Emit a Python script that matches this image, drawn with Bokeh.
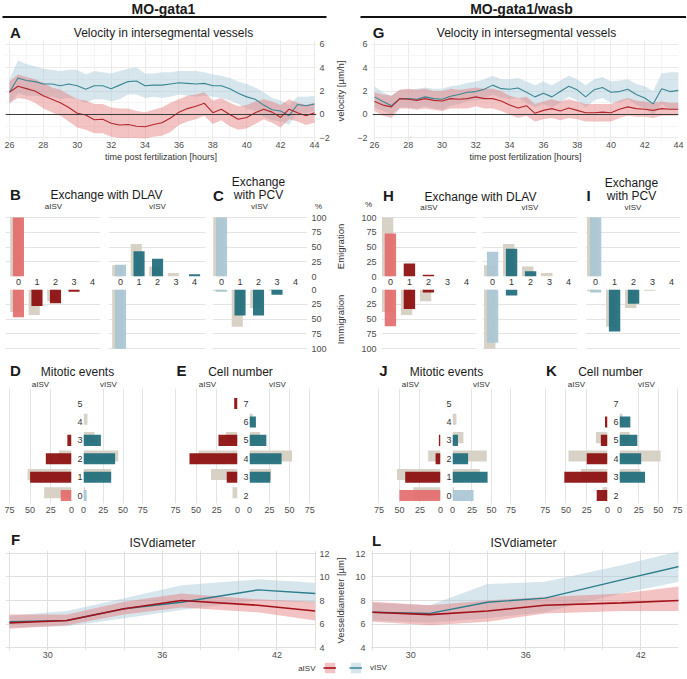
from bokeh.plotting import figure
from bokeh.models import (Range1d, FixedTicker, Label, BoxAnnotation, Span,
                          ColumnDataSource, Legend, LegendItem)
from bokeh.layouts import row, column
from bokeh.transform import dodge
from bokeh.embed import file_html
from bokeh.resources import INLINE

FONT = "Liberation Sans"

# ---------------- velocity data ----------------
time_h = [26.0, 26.5, 27.0, 27.5, 28.0, 28.5, 29.0, 29.5, 30.0, 30.5,
          31.0, 31.5, 32.0, 32.5, 33.0, 33.5, 34.0, 34.5, 35.0, 35.5,
          36.0, 36.5, 37.0, 37.5, 38.0, 38.5, 39.0, 39.5, 40.0, 40.5,
          41.0, 41.5, 42.0, 42.5, 43.0, 43.5, 44.0]
# MO-gata1 (A)
g1_vel_v = [1.9, 3.1, 2.9, 2.8, 2.6, 2.6, 2.45, 2.6, 2.45, 2.15,
            2.45, 2.45, 2.2, 2.5, 2.8, 2.85, 2.45, 2.5, 2.5, 2.6,
            2.7, 2.65, 2.6, 2.65, 2.45, 2.45, 2.2, 1.8, 1.5, 1.3,
            0.8, 0.4, 0.3, -0.1, 0.85, 0.75, 0.9]
g1_vel_v_lo = [0.8, 1.8, 1.6, 1.6, 1.5, 1.5, 1.3, 1.4, 1.3, 1.0,
               1.3, 1.3, 1.1, 1.3, 1.7, 1.7, 1.4, 1.5, 1.4, 1.5,
               1.7, 1.6, 1.5, 1.6, 1.5, 1.4, 1.2, 0.9, 0.5, 0.3,
               -0.2, -0.5, -0.6, -0.9, 0.2, 0.1, 0.3]
g1_vel_v_hi = [3.0, 4.6, 4.3, 4.1, 3.9, 3.8, 3.7, 3.8, 3.8, 3.4,
               3.7, 3.6, 3.5, 3.7, 3.9, 4.0, 3.5, 3.5, 3.6, 3.6,
               3.7, 3.7, 3.7, 3.6, 3.4, 3.3, 3.1, 2.8, 2.6, 2.3,
               1.9, 1.4, 1.2, 0.8, 1.5, 1.5, 1.6]
g1_vel_a = [1.9, 2.4, 2.2, 2.0, 1.6, 1.3, 1.0, 0.6, 0.1, -0.05,
            -0.45, -0.4, -0.75, -0.9, -0.85, -1.0, -1.05, -0.85, -0.7, -0.3,
            0.2, 0.5, 0.7, 0.95, 0.15, 0.45, 0.0, -0.4, -0.25, 0.15,
            0.45, 0.2, -0.25, 0.45, 0.15, -0.1, 0.15]
g1_vel_a_lo = [1.0, 1.4, 1.3, 1.0, 0.5, 0.2, -0.1, -0.6, -1.1, -1.3,
               -1.6, -1.6, -1.9, -2.0, -2.0, -2.0, -2.05, -1.9, -1.8, -1.5,
               -0.9, -0.6, -0.4, -0.1, -0.8, -0.5, -1.0, -1.3, -1.2, -0.8,
               -0.4, -0.7, -1.1, -0.4, -0.6, -0.9, -0.7]
g1_vel_a_hi = [2.8, 3.4, 3.2, 3.0, 2.7, 2.3, 2.1, 1.7, 1.3, 1.2,
               0.9, 0.9, 0.6, 0.5, 0.5, 0.3, 0.2, 0.4, 0.6, 1.0,
               1.3, 1.6, 1.7, 1.9, 1.2, 1.4, 1.0, 0.7, 0.8, 1.1,
               1.3, 1.1, 0.8, 1.3, 1.0, 0.8, 1.0]
# MO-gata1/wasb (G)
gw_vel_v = [1.5, 1.1, 0.75, 1.35, 1.35, 1.3, 1.5, 1.35, 1.3, 1.55,
            1.7, 1.9, 1.95, 2.15, 2.5, 2.2, 2.15, 2.25, 1.9, 1.5,
            1.8, 1.5, 1.95, 2.4, 2.1, 1.5, 2.1, 2.3, 1.9, 1.95,
            2.15, 1.7, 1.4, 0.9, 2.2, 1.95, 2.05]
gw_vel_v_lo = [0.6, 0.3, 0.0, 0.6, 0.6, 0.5, 0.7, 0.5, 0.4, 0.7,
               0.9, 1.1, 1.2, 1.3, 1.7, 1.4, 1.3, 1.4, 1.0, 0.6,
               0.9, 0.6, 1.0, 1.5, 1.2, 0.6, 1.2, 1.4, 1.0, 1.0,
               1.3, 0.8, 0.5, -0.1, 0.9, 0.4, 0.5]
gw_vel_v_hi = [2.4, 1.9, 1.6, 2.1, 2.1, 2.2, 2.3, 2.2, 2.2, 2.4,
               2.5, 2.7, 2.8, 3.0, 3.3, 3.0, 3.0, 3.1, 2.8, 2.5,
               2.8, 2.5, 2.9, 3.3, 3.0, 2.5, 3.0, 3.2, 2.8, 2.9,
               3.0, 2.6, 2.4, 2.0, 3.5, 3.6, 3.6]
gw_vel_a = [1.1, 0.8, 0.65, 1.35, 1.3, 1.2, 1.35, 1.2, 1.15, 1.35,
            1.3, 1.35, 1.5, 1.35, 1.35, 1.15, 0.8, 0.55, 0.75, 0.1,
            0.35, 0.5, 0.3, 0.55, 0.35, 0.15, 0.15, 0.2, 0.15, 0.45,
            0.65, 0.5, 0.45, 0.35, 0.5, 0.45, 0.45]
gw_vel_a_lo = [0.3, -0.1, -0.3, 0.5, 0.5, 0.4, 0.5, 0.4, 0.3, 0.5,
               0.5, 0.5, 0.7, 0.5, 0.5, 0.3, 0.0, -0.3, -0.1, -0.6,
               -0.4, -0.3, -0.5, -0.3, -0.4, -0.6, -0.6, -0.6, -0.6, -0.3,
               -0.1, -0.2, -0.2, -0.3, -0.1, -0.1, -0.1]
gw_vel_a_hi = [1.9, 1.7, 1.6, 2.1, 2.2, 2.1, 2.2, 2.0, 2.0, 2.2,
               2.1, 2.2, 2.3, 2.2, 2.2, 2.0, 1.6, 1.4, 1.5, 0.9,
               1.1, 1.3, 1.1, 1.3, 1.1, 0.9, 0.9, 0.9, 0.9, 1.2,
               1.4, 1.2, 1.1, 1.0, 1.1, 1.0, 1.0]

# ---------------- exchange data (% of cells) ----------------
exch_cats = [0, 1, 2, 3, 4]
ctrl_dlav_a_emig = [100, 0, 0, 0, 0]
ctrl_dlav_a_immig = [38, 43, 20, 0, 0]
ctrl_dlav_v_emig = [19, 55, 17, 6, 0]
ctrl_dlav_v_immig = [100, 0, 0, 0, 0]
ctrl_pcv_v_emig = [100, 0, 0, 0, 0]
ctrl_pcv_v_immig = [3, 63, 31, 2, 0]
g1_dlav_a_emig = [100, 0, 0, 0, 0]
g1_dlav_a_immig = [47, 28, 23, 4, 0]
g1_dlav_v_emig = [20, 43, 30, 0, 4]
g1_dlav_v_immig = [100, 0, 0, 0, 0]
g1_pcv_v_emig = [100, 0, 0, 0, 0]
g1_pcv_v_immig = [4, 44, 44, 9, 0]
gw_dlav_a_emig = [73, 22, 3, 0, 0]
gw_dlav_a_immig = [62, 33, 5, 0, 0]
gw_dlav_v_emig = [42, 47, 9, 0, 0]
gw_dlav_v_immig = [90, 10, 0, 0, 0]
gw_pcv_v_emig = [100, 0, 0, 0, 0]
gw_pcv_v_immig = [5, 71, 24, 0, 0]

# ---------------- mitotic events / cell number (%) ----------------
mit_cats = [0, 1, 2, 3, 4, 5]
ctrl_mit_a = [33, 53, 15, 0, 0, 0]
ctrl_mit_v = [2, 35, 44, 14, 5, 0]
g1_mit_a = [13, 50, 31, 5, 0, 0]
g1_mit_v = [4, 35, 40, 22, 0, 0]
gw_mit_a = [50, 43, 6, 2, 0, 0]
gw_mit_v = [27, 45, 20, 7, 0, 0]
cell_cats = [2, 3, 4, 5, 6, 7]
ctrl_cell_a = [6, 32, 47, 14, 0, 0]
ctrl_cell_v = [0, 27, 53, 13, 4, 0]
g1_cell_a = [0, 13, 58, 23, 0, 4]
g1_cell_v = [0, 26, 40, 21, 8, 0]
gw_cell_a = [13, 52, 25, 8, 3, 0]
gw_cell_v = [0, 33, 28, 23, 14, 0]

# ---------------- ISV diameter (um) ----------------
dia_t = [28, 31, 34, 37, 41, 44]
g1_dia_a = [6.1, 6.3, 7.3, 8.0, 7.6, 7.1]
g1_dia_a_lo = [5.6, 5.9, 6.8, 7.4, 7.0, 6.3]
g1_dia_a_hi = [6.8, 6.8, 7.9, 8.6, 8.1, 7.9]
g1_dia_v = [6.2, 6.3, 7.3, 7.85, 8.9, 8.6]
g1_dia_v_lo = [5.7, 5.8, 6.5, 7.2, 8.0, 7.8]
g1_dia_v_hi = [6.7, 7.1, 8.2, 9.3, 9.8, 9.5]
gw_dia_a = [7.0, 6.8, 7.1, 7.6, 7.8, 8.0]
gw_dia_a_lo = [6.2, 5.9, 6.2, 6.9, 7.1, 7.1]
gw_dia_a_hi = [7.9, 7.6, 8.0, 8.3, 8.6, 9.2]
gw_dia_v = [7.0, 6.9, 7.85, 8.2, 9.75, 10.9]
gw_dia_v_lo = [6.3, 6.1, 6.5, 7.0, 8.6, 9.6]
gw_dia_v_hi = [7.8, 7.6, 9.4, 9.6, 11.0, 12.2]

# ---------------- styles ----------------
V_LINE = "#3a8693"
A_LINE = "#b3262b"
V_BAND = "#a6c8d8"
A_BAND = "#e57b7b"
BEIGE = "#d8d2c6"
DARKRED = "#8b0b0b"
LIGHTRED = "#e36d6d"
TEAL = "#1d6b79"
LIGHTBLUE = "#a9c7d4"
GRID = "#e4e4e4"
TXT = "#1a1a1a"
PCT = [0, 25, 50, 75, 100]


def style_axes(p):
    for ax in list(p.xaxis) + list(p.yaxis):
        ax.axis_line_color = None
        ax.major_tick_line_color = None
        ax.minor_tick_line_color = None
        ax.major_tick_out = 0
        ax.major_tick_in = 0
        ax.minor_tick_out = 0
        ax.minor_tick_in = 0
        ax.major_label_text_font = FONT
        ax.major_label_text_font_size = "9px"
        ax.major_label_text_color = "#4d4d4d"
        ax.axis_label_text_font = FONT
        ax.axis_label_text_font_size = "9.5px"
        ax.axis_label_text_font_style = "normal"
        ax.axis_label_text_color = "#333333"


def base_fig(w, h, ml, mr, mt, mb, xr, yr, xloc=None, yloc=None):
    p = figure(width=w, height=h, x_range=xr, y_range=yr, title=None,
               x_axis_location=xloc, y_axis_location=yloc,
               toolbar_location=None, output_backend="svg",
               min_border_left=ml, min_border_right=mr,
               min_border_top=mt, min_border_bottom=mb)
    p.frame_align = False
    p.outline_line_color = None
    p.background_fill_color = "white"
    p.border_fill_color = "white"
    style_axes(p)
    return p


def strip(w, h):
    p = figure(width=w, height=h, x_range=Range1d(0, w), y_range=Range1d(h, 0),
               title=None, x_axis_location=None, y_axis_location=None,
               toolbar_location=None, output_backend="svg",
               min_border_left=0, min_border_right=0, min_border_top=0, min_border_bottom=0)
    p.frame_align = False
    p.xgrid.visible = False
    p.ygrid.visible = False
    p.outline_line_color = None
    p.background_fill_color = "white"
    p.border_fill_color = "white"
    return p


def txt(p, x, y, s, size="12px", bold=False, align="center", color=TXT):
    p.add_layout(Label(x=x, y=y, text=s, text_align=align, text_baseline="middle",
                       text_font=FONT, text_font_size=size,
                       text_font_style="bold" if bold else "normal", text_color=color))


def velocity_fig(w, ml, mr, xr, am, alo, ahi, vm, vlo, vhi, yside, ylabel=None, lab_so=0):
    p = base_fig(w, 125, ml, mr, 0, 24, Range1d(*xr), Range1d(-2.3, 6.3),
                 xloc="below", yloc=yside)
    src = ColumnDataSource(dict(t=time_h, am=am, alo=alo, ahi=ahi, vm=vm, vlo=vlo, vhi=vhi))
    p.varea(x="t", y1="vlo", y2="vhi", source=src, fill_color=V_BAND, fill_alpha=0.45)
    p.varea(x="t", y1="alo", y2="ahi", source=src, fill_color=A_BAND, fill_alpha=0.45)
    p.add_layout(Span(location=0, dimension="width", line_color="#3a3a3a",
                      line_width=1, level="glyph"))
    p.line(x="t", y="vm", source=src, line_color=V_LINE, line_width=1.1)
    p.line(x="t", y="am", source=src, line_color=A_LINE, line_width=1.1)
    xt = FixedTicker(ticks=[26, 28, 30, 32, 34, 36, 38, 40, 42, 44],
                     minor_ticks=[27, 29, 31, 33, 35, 37, 39, 41, 43])
    yt = FixedTicker(ticks=[-2, 0, 2, 4, 6], minor_ticks=[-1, 1, 3, 5])
    p.xaxis.ticker = xt
    p.yaxis.ticker = yt
    p.xgrid.ticker = xt
    p.ygrid.ticker = yt
    p.grid.grid_line_color = "#ebebeb"
    p.grid.minor_grid_line_color = "#f5f5f5"
    p.xaxis.axis_label = "time post fertilization [hours]"
    p.xaxis.major_label_standoff = 0
    p.xaxis.axis_label_standoff = 1
    p.xaxis.axis_label_text_font_size = "9px"
    p.yaxis.major_label_standoff = 3 if yside == "right" else 5
    if ylabel:
        p.yaxis.axis_label = ylabel
        p.yaxis.axis_label_standoff = lab_so
    return p


def exch_col(w, ml, mr, xr, ctrl_e, val_e, ctrl_i, val_i, kind):
    light = LIGHTRED if kind == "a" else LIGHTBLUE
    dark = DARKRED if kind == "a" else TEAL
    colors = [light if c == 0 else dark for c in exch_cats]
    up = base_fig(w, 75, ml, mr, 2, 13, Range1d(*xr), Range1d(0, 101.7), xloc="below")
    lo = base_fig(w, 66, ml, mr, 0, 6, Range1d(*xr), Range1d(101.2, 0))
    for p, c, v in ((up, ctrl_e, val_e), (lo, ctrl_i, val_i)):
        src = ColumnDataSource(dict(cat=exch_cats, ctrl=c, val=v, color=colors))
        p.vbar(x=dodge("cat", -0.15), top="ctrl", bottom=0, width=0.6, source=src,
               fill_color=BEIGE, line_color=None)
        p.vbar(x="cat", top="val", bottom=0, width=0.6, source=src,
               fill_color="color", fill_alpha=0.92, line_color=None)
        p.xgrid.visible = False
        p.ygrid.ticker = FixedTicker(ticks=PCT)
        p.ygrid.grid_line_color = GRID
    up.xaxis.ticker = FixedTicker(ticks=exch_cats)
    up.xaxis.major_label_standoff = 2
    up.xaxis.major_label_text_color = "#333333"
    return column(up, lo)


def axis_fig(w, h, ml, mr, mt, mb, yr, side, standoff, label=None, lab_so=0):
    p = base_fig(w, h, ml, mr, mt, mb, Range1d(0, 1), yr, yloc=side)
    p.xgrid.visible = False
    p.ygrid.visible = False
    p.yaxis.ticker = FixedTicker(ticks=PCT)
    p.yaxis.major_label_standoff = standoff
    if label:
        p.yaxis.axis_label = label
        p.yaxis.axis_label_standoff = lab_so
    return p


def axis_col(w, ml, mr, side, standoff, labels=(None, None), lab_so=0):
    up = axis_fig(w, 69, ml, mr, 2, 7, Range1d(0, 101.7), side, standoff, labels[0], lab_so)
    lo = axis_fig(w, 72, ml, mr, 6, 6, Range1d(101.2, 0), side, standoff, labels[1], lab_so)
    return column(up, lo)


def mit_pair(wl, mll, mrl, xl, wr, mlr, mrr, xr, cats, yr, ctrl_a, val_a, ctrl_v, val_v, light0):
    ca = [LIGHTRED if (light0 and c == 0) else DARKRED for c in cats]
    cv = [LIGHTBLUE if (light0 and c == 0) else TEAL for c in cats]
    left = base_fig(wl, 132, mll, mrl, 0, 17, Range1d(*xl), Range1d(*yr), xloc="below")
    right = base_fig(wr, 132, mlr, mrr, 0, 17, Range1d(*xr), Range1d(*yr),
                     xloc="below", yloc="left")
    for p, c, v, col in ((left, ctrl_a, val_a, ca), (right, ctrl_v, val_v, cv)):
        src = ColumnDataSource(dict(cat=cats, ctrl=c, val=v, color=col))
        p.hbar(y=dodge("cat", 0.15), left=0, right="ctrl", height=0.6, source=src,
               fill_color=BEIGE, line_color=None)
        p.hbar(y="cat", left=0, right="val", height=0.6, source=src,
               fill_color="color", fill_alpha=0.92, line_color=None)
        p.ygrid.visible = False
        p.xgrid.ticker = FixedTicker(ticks=[0, 25, 50, 75])
        p.xgrid.grid_line_color = GRID
        p.xaxis.ticker = FixedTicker(ticks=[0, 25, 50, 75])
        p.xaxis.major_label_standoff = 3
    right.yaxis.ticker = FixedTicker(ticks=cats)
    right.yaxis.major_label_standoff = 1
    right.yaxis.major_label_text_color = "#333333"
    return left, right


def dia_fig(w, ml, mr, xr, am, alo, ahi, vm, vlo, vhi, yside, ylabel=None, lab_so=0):
    p = base_fig(w, 111, ml, mr, 0, 11, Range1d(*xr), Range1d(3.745, 12.255),
                 xloc="below", yloc=yside)
    src = ColumnDataSource(dict(t=dia_t, am=am, alo=alo, ahi=ahi, vm=vm, vlo=vlo, vhi=vhi))
    p.varea(x="t", y1="vlo", y2="vhi", source=src, fill_color=V_BAND, fill_alpha=0.45)
    p.varea(x="t", y1="alo", y2="ahi", source=src, fill_color=A_BAND, fill_alpha=0.45)
    p.line(x="t", y="vm", source=src, line_color="#2c7d8c", line_width=1.4)
    p.line(x="t", y="am", source=src, line_color="#a3121a", line_width=1.6)
    p.xaxis.ticker = FixedTicker(ticks=[30, 36, 42])
    p.xgrid.ticker = FixedTicker(ticks=[28, 30, 32, 34, 36, 38, 40, 42, 44])
    yt = FixedTicker(ticks=[4, 6, 8, 10, 12])
    p.yaxis.ticker = yt
    p.ygrid.ticker = yt
    p.grid.grid_line_color = "#e0e0e0"
    p.xaxis.major_label_standoff = 1
    p.yaxis.major_label_standoff = 3 if yside == "right" else 5
    if ylabel:
        p.yaxis.axis_label = ylabel
        p.yaxis.axis_label_standoff = lab_so
    return p


SUB = dict(size="8px", color="#333333")
LET = dict(size="15px", bold=True)

# ================= LEFT HALF (MO-gata1) : x 0..332 =================
hdrL = strip(332, 40)
txt(hdrL, 163, 8.5, "MO-gata1", size="14px", bold=True)
hdrL.add_layout(BoxAnnotation(left=2, right=326, top=15.5, bottom=17.5,
                              fill_color="#111111", fill_alpha=1, line_color=None))
txt(hdrL, 15, 32, "A", **LET)
txt(hdrL, 163, 32.5, "Velocity in intersegmental vessels")

A = velocity_fig(332, 5, 15, (25.765, 44.118), g1_vel_a, g1_vel_a_lo, g1_vel_a_hi,
                 g1_vel_v, g1_vel_v_lo, g1_vel_v_hi, "right")

exL = strip(332, 49)
txt(exL, 15, 28.7, "B", **LET)
txt(exL, 106, 29, "Exchange with DLAV")
txt(exL, 218, 29.5, "C", **LET)
txt(exL, 258, 16, "Exchange")
txt(exL, 258, 29, "with PCV")
txt(exL, 53, 41, "aISV", **SUB)
txt(exL, 157, 41, "vISV", **SUB)
txt(exL, 259, 41, "vISV", **SUB)
txt(exL, 318, 40.5, "%", **SUB)

colBa = exch_col(104, 5, 4, (-0.70, 4.43), ctrl_dlav_a_emig, g1_dlav_a_emig,
                 ctrl_dlav_a_immig, g1_dlav_a_immig, "a")
colBv = exch_col(105, 4, 4, (-0.65, 4.59), ctrl_dlav_v_emig, g1_dlav_v_emig,
                 ctrl_dlav_v_immig, g1_dlav_v_immig, "v")
colC = exch_col(98, 3, 0, (-0.49, 4.65), ctrl_pcv_v_emig, g1_pcv_v_emig,
                ctrl_pcv_v_immig, g1_pcv_v_immig, "v")
axL = axis_col(25, 0, 24, "right", 3)

mitL = strip(332, 33)
txt(mitL, 15, 15, "D", **LET)
txt(mitL, 77, 16, "Mitotic events")
txt(mitL, 181, 15, "E", **LET)
txt(mitL, 240, 16, "Cell number")
for x, s in ((40, "aISV"), (108, "vISV"), (207, "aISV"), (277, "vISV")):
    txt(mitL, x, 28.5, s, **SUB)

Dl, Dr = mit_pair(74, 5, 3, (79.7, 0), 86, 6, 14, (0, 79.7), mit_cats, (-0.43, 5.82),
                  ctrl_mit_a, g1_mit_a, ctrl_mit_v, g1_mit_v, True)
El, Er = mit_pair(80, 10, 3, (80.9, 0), 92, 7, 20, (0, 78.5), cell_cats, (1.57, 7.82),
                  ctrl_cell_a, g1_cell_a, ctrl_cell_v, g1_cell_v, False)

diaL = strip(332, 30)
txt(diaL, 15, 19, "F", **LET)
txt(diaL, 162, 22, "ISVdiameter")

F = dia_fig(332, 5, 15, (27.79, 44.07), g1_dia_a, g1_dia_a_lo, g1_dia_a_hi,
            g1_dia_v, g1_dia_v_lo, g1_dia_v_hi, "right")

# ================= RIGHT HALF (MO-gata1/wasb) : x 332..686 =================
hdrR = strip(354, 40)
txt(hdrR, 189, 8.5, "MO-gata1/wasb", size="14px", bold=True)
hdrR.add_layout(BoxAnnotation(left=28, right=354, top=15.5, bottom=17.5,
                              fill_color="#111111", fill_alpha=1, line_color=None))
txt(hdrR, 46, 32, "G", **LET)
txt(hdrR, 194, 32.5, "Velocity in intersegmental vessels")

G = velocity_fig(354, 38, 8, (25.88, 44.0), gw_vel_a, gw_vel_a_lo, gw_vel_a_hi,
                 gw_vel_v, gw_vel_v_lo, gw_vel_v_hi, "left",
                 ylabel="velocity [µm/h]", lab_so=8)

exR = strip(354, 49)
txt(exR, 56, 30.3, "H", **LET)
txt(exR, 148, 31, "Exchange with DLAV")
txt(exR, 256, 30.3, "I", **LET)
txt(exR, 299, 17, "Exchange")
txt(exR, 299, 30, "with PCV")
txt(exR, 96.5, 42, "aISV", **SUB)
txt(exR, 197.5, 42, "vISV", **SUB)
txt(exR, 300.5, 42, "vISV", **SUB)
txt(exR, 36, 39, "%", **SUB)

axR = axis_col(49, 48, 0, "left", 4, labels=("Emigration", "Immigration"), lab_so=12)
colHa = exch_col(98, 0, 3, (-0.47, 4.53), ctrl_dlav_a_emig, gw_dlav_a_emig,
                 ctrl_dlav_a_immig, gw_dlav_a_immig, "a")
colHv = exch_col(102, 3, 4, (-0.53, 4.47), ctrl_dlav_v_emig, gw_dlav_v_emig,
                 ctrl_dlav_v_immig, gw_dlav_v_immig, "v")
colI = exch_col(105, 4, 6, (-0.53, 4.47), ctrl_pcv_v_emig, gw_pcv_v_emig,
                ctrl_pcv_v_immig, gw_pcv_v_immig, "v")

mitR = strip(354, 33)
txt(mitR, 51, 15, "J", **LET)
txt(mitR, 114, 16, "Mitotic events")
txt(mitR, 219, 15, "K", **LET)
txt(mitR, 278, 16, "Cell number")
for x, s in ((78, "aISV"), (149, "vISV"), (244, "aISV"), (314, "vISV")):
    txt(mitR, x, 28.5, s, **SUB)

Jl, Jr = mit_pair(111, 43, 3, (79.2, 0), 87, 7, 16, (0, 79.5), mit_cats, (-0.43, 5.82),
                  ctrl_mit_a, gw_mit_a, ctrl_mit_v, gw_mit_v, True)
Kl, Kr = mit_pair(80, 11, 3, (79.5, 0), 76, 6, 7, (0, 77.5), cell_cats, (1.57, 7.82),
                  ctrl_cell_a, gw_cell_a, ctrl_cell_v, gw_cell_v, False)

diaR = strip(354, 30)
txt(diaR, 44, 20, "L", **LET)
txt(diaR, 191, 22, "ISVdiameter")

L = dia_fig(354, 38, 8, (27.9, 43.97), gw_dia_a, gw_dia_a_lo, gw_dia_a_hi,
            gw_dia_v, gw_dia_v_lo, gw_dia_v_hi, "left",
            ylabel="Vesseldiameter [µm]", lab_so=6)

# ================= LEGEND =================
leg = strip(686, 17)
leg.extra_y_ranges = {"off": Range1d(1000, 1001)}
rab = leg.varea(x=dia_t, y1=g1_dia_a_lo, y2=g1_dia_a_hi, y_range_name="off",
                fill_color=A_BAND, fill_alpha=0.45)
ral = leg.line(x=dia_t, y=g1_dia_a, y_range_name="off", line_color="#a3121a", line_width=1.6)
rvb = leg.varea(x=dia_t, y1=g1_dia_v_lo, y2=g1_dia_v_hi, y_range_name="off",
                fill_color=V_BAND, fill_alpha=0.45)
rvl = leg.line(x=dia_t, y=g1_dia_v, y_range_name="off", line_color="#2c7d8c", line_width=1.4)
legend = Legend(items=[LegendItem(label=" ", renderers=[rab, ral]),
                       LegendItem(label="vISV", renderers=[rvb, rvl])],
                orientation="horizontal", location=(323, 4),
                glyph_width=13, glyph_height=13, label_standoff=8, spacing=4,
                padding=0, margin=0, label_height=13, label_width=1,
                border_line_color=None, background_fill_alpha=0,
                label_text_font=FONT, label_text_font_size="8px",
                label_text_color="#333333")
leg.add_layout(legend)
txt(leg, 315, 6.5, "aISV", size="8px", align="right", color="#333333")

left = column(hdrL, A, exL, row(colBa, colBv, colC, axL), mitL,
              row(Dl, Dr, El, Er), diaL, F)
right = column(hdrR, G, exR, row(axR, colHa, colHv, colI), mitR,
               row(Jl, Jr, Kl, Kr), diaR, L)
page = column(row(left, right), leg)

open("out.html", "w", encoding="utf-8").write(file_html(page, INLINE))
